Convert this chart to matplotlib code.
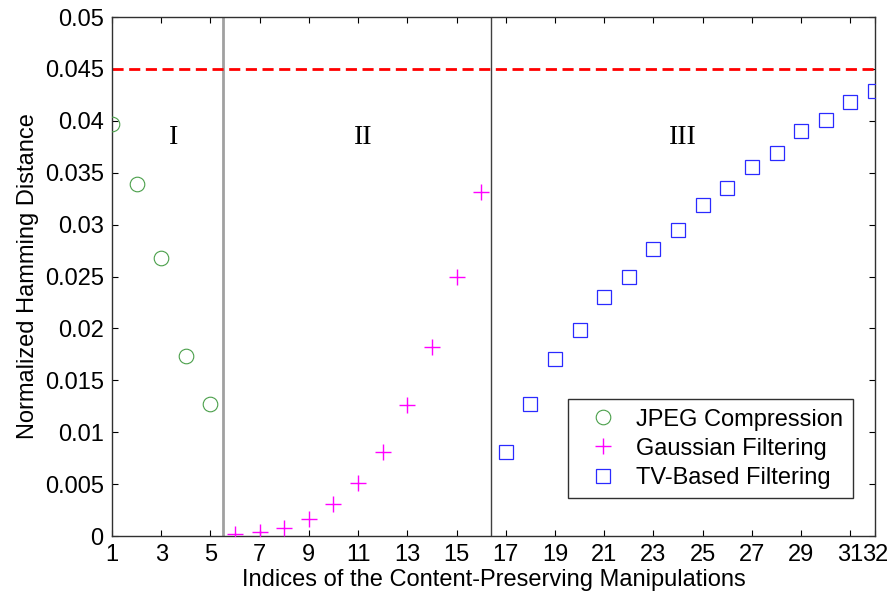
import matplotlib
matplotlib.use("Agg")
import matplotlib.pyplot as plt
import numpy as np

# 数据：三类保持内容的操作
jpeg_idx = [1, 2, 3, 4, 5]
jpeg_vals = [0.0397, 0.0339, 0.0268, 0.0173, 0.0127]

gauss_idx = [6, 7, 8, 9, 10, 11, 12, 13, 14, 15, 16]
gauss_vals = [0.0002, 0.0004, 0.0008, 0.0016, 0.0031, 0.0051,
              0.0081, 0.0126, 0.0182, 0.0250, 0.0331]

tv_idx = list(range(17, 33))
tv_vals = [0.0081, 0.0127, 0.0171, 0.0199, 0.0230, 0.0250, 0.0277, 0.0295,
           0.0319, 0.0335, 0.0356, 0.0369, 0.0390, 0.0401, 0.0418, 0.0429]

threshold = 0.045
separators = [5.5, 16.4]
region_labels = ["I", "II", "III"]
region_x = [3.5, 11.2, 24.2]
region_y = 0.0384

x_ticks = [1, 3, 5, 7, 9, 11, 13, 15, 17, 19, 21, 23, 25, 27, 29, 31, 32]
y_ticks = [0, 0.005, 0.01, 0.015, 0.02, 0.025, 0.03, 0.035, 0.04, 0.045, 0.05]
y_tick_labels = ["0", "0.005", "0.01", "0.015", "0.02", "0.025",
                 "0.03", "0.035", "0.04", "0.045", "0.05"]

plt.rcParams["font.family"] = ["Liberation Sans", "DejaVu Sans"]

fig = plt.figure(figsize=(8.9, 5.99), dpi=100)
ax = fig.add_axes([0.1258, 0.105, 0.8573, 0.8666])

# 分区竖线
ax.axvline(separators[0], color="#a0a0a0", lw=2, zorder=1)
ax.axvline(separators[1], color="#404040", lw=1, zorder=1)

# 阈值线
ax.axhline(threshold, color="red", lw=2, ls=(0, (4, 2)), zorder=2)

ax.plot(jpeg_idx, jpeg_vals, ls="none", marker="o", ms=10.5, mfc="none",
        mec="#4a9f4a", mew=0.8, label="JPEG Compression", zorder=3)
ax.plot(gauss_idx, gauss_vals, ls="none", marker="+", ms=12, mec="#ff00ff",
        mew=1.0, label="Gaussian Filtering", zorder=3)
ax.plot(tv_idx, tv_vals, ls="none", marker="s", ms=9.5, mfc="none",
        mec="#2a2aff", mew=0.9, label="TV-Based Filtering", zorder=3)

for lab, xx in zip(region_labels, region_x):
    ax.text(xx, region_y, lab, family=["Liberation Serif", "DejaVu Serif"],
            fontsize=20, ha="center", va="center")

ax.set_xlim(1, 32)
ax.set_ylim(0, 0.05)
ax.set_xticks(x_ticks)
ax.set_yticks(y_ticks)
ax.set_yticklabels(y_tick_labels)
ax.tick_params(direction="in", length=4, width=0.8, top=True, right=True,
               labelsize=17, pad=6)
for s in ax.spines.values():
    s.set_color("#303030")
    s.set_linewidth(1.0)

ax.set_xlabel("Indices of the Content-Preserving Manipulations", fontsize=17,
              labelpad=2)
ax.set_ylabel("Normalized Hamming Distance", fontsize=17, labelpad=4)

leg = ax.legend(loc="lower right", bbox_to_anchor=(0.971, 0.073),
                borderaxespad=0, fontsize=17, handlelength=2.2,
                handletextpad=0.3, labelspacing=0.3, borderpad=0.4,
                fancybox=False, framealpha=1)
leg.get_frame().set_edgecolor("#303030")
leg.get_frame().set_linewidth(1.0)

fig.savefig("out.png", dpi=100)
